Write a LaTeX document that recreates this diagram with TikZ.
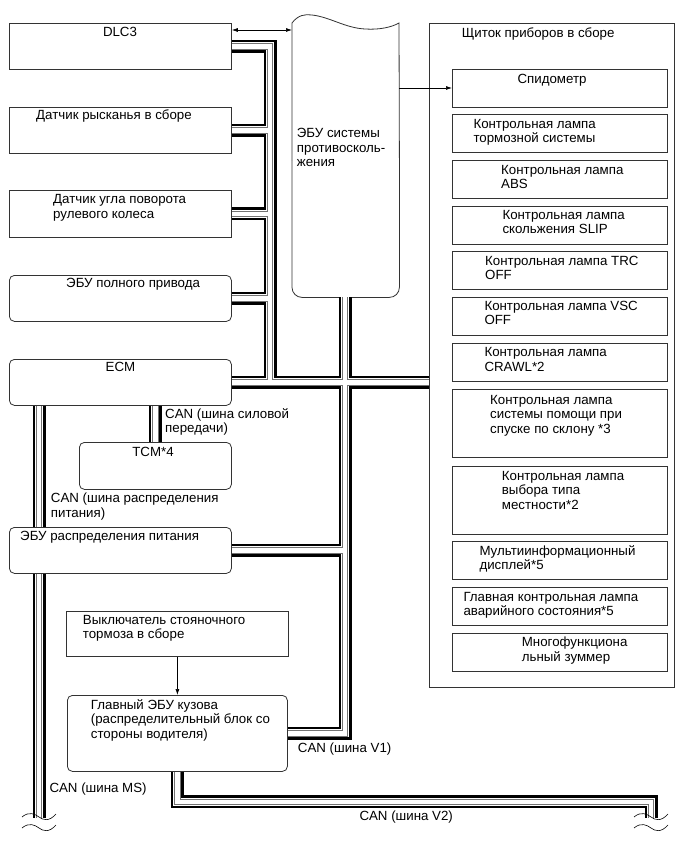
\documentclass[tikz,border=0pt]{standalone}
\usepackage{fontspec}
\setmainfont{Liberation Sans}
\usetikzlibrary{arrows.meta,calc}
\newcommand\ml[1]{\begin{tabular}[t]{@{}l@{}}#1\end{tabular}}
\tikzset{
  boxline/.style={draw=black!80, line width=0.8pt},
  box/.style={boxline, fill=white, rectangle, inner sep=0pt, anchor=north west},
  rbox/.style={box, rounded corners=5pt},
  txt/.style={anchor=base west, inner sep=0pt, font=\fontsize{13.3}{14.5}\selectfont},
  ctxt/.style={txt, anchor=base},
  arr/.style={draw=black, line width=0.7pt},
  tip/.tip={Latex[length=6pt,width=4pt]},
  brkline/.style={draw=black, line width=0.6pt}
}
\newcommand\busnet[1]{%
  \draw[#1] (dlc.east) -| (mx |- ecm.east);
  \draw[#1] (yaw.east) -- (yaw.east -| mx);
  \draw[#1] (steer.east) -- (steer.east -| mx);
  \draw[#1] (awd.east) -- (awd.east -| mx);
  \draw[#1] (ecm.east) -- (ecm.east -| cluster.west);
  \draw[#1] (sx) |- (body.east);
  \draw[#1] (pd.east) -- (pd.east -| sx);
  \draw[#1] (tcm.north |- ecm.south) -- (tcm.north);
  \draw[#1] (msx |- ecm.south) -- (msx |- pd.north);
  \draw[#1] (msx |- pd.south) -- (msend);
  \draw[#1] (body.south) -- ++(0,30) -| (v2end);
}
\newcommand\brkmark[1]{%
  \draw[brkline] ($(#1)+(-17,-1)$) .. controls ($(#1)+(-10,-7)$) and ($(#1)+(-4,-4)$) .. ($(#1)+(0,-1)$) .. controls ($(#1)+(4,2)$) and ($(#1)+(10,4)$) .. ($(#1)+(17,-4)$);
  \draw[brkline] ($(#1)+(-17,10)$) .. controls ($(#1)+(-10,4)$) and ($(#1)+(-4,7)$) .. ($(#1)+(0,10)$) .. controls ($(#1)+(4,13)$) and ($(#1)+(10,15)$) .. ($(#1)+(17,7)$);
}
\begin{document}
\begin{tikzpicture}[x=1pt,y=-1pt]
\useasboundingbox[fill=white] (0,0) rectangle (689,853);

% left column boxes
\node[box, minimum width=222pt, minimum height=46pt] (dlc) at (9,23) {};
\node[box, minimum width=222pt, minimum height=46pt] (yaw) at (9,107) {};
\node[box, minimum width=222pt, minimum height=47pt] (steer) at (9,190) {};
\node[rbox, minimum width=222pt, minimum height=46pt] (awd) at (9,275) {};
\node[rbox, minimum width=222pt, minimum height=46pt] (ecm) at (9,359) {};
\node[rbox, minimum width=152pt, minimum height=47pt] (tcm) at (79,442) {};
\node[rbox, minimum width=222pt, minimum height=46pt] (pd) at (9,527) {};
\node[box, minimum width=222pt, minimum height=45pt] (pbs) at (66,611) {};
\node[rbox, minimum width=220pt, minimum height=76pt] (body) at (67,695) {};

% cluster
\node[box, minimum width=245pt, minimum height=664pt] (cluster) at (429,23) {};
\node[box, minimum width=215pt, minimum height=38pt] (speedo) at (452,69) {};
\node[box, minimum width=215pt, minimum height=38pt] (brake) at (452,114) {};
\node[box, minimum width=215pt, minimum height=38pt] (abs) at (452,160) {};
\node[box, minimum width=215pt, minimum height=38pt] (slip) at (452,206) {};
\node[box, minimum width=215pt, minimum height=38pt] (trc) at (452,251) {};
\node[box, minimum width=215pt, minimum height=38pt] (vsc) at (452,297) {};
\node[box, minimum width=215pt, minimum height=38pt] (crawl) at (452,343) {};
\node[box, minimum width=215pt, minimum height=68pt] (hdc) at (452,389) {};
\node[box, minimum width=215pt, minimum height=68pt] (terr) at (452,466) {};
\node[box, minimum width=215pt, minimum height=38pt] (multi) at (452,541) {};
\node[box, minimum width=215pt, minimum height=38pt] (master) at (452,587) {};
\node[box, minimum width=215pt, minimum height=38pt] (buzz) at (452,633) {};

% skid control ECU
\node[inner sep=0pt, minimum width=107pt, minimum height=274pt, anchor=north west] (skid) at (292,23) {};
\draw[boxline, rounded corners=10pt] (skid.west) -- (skid.south west) -- (skid.south east) -- (skid.east);
\draw[boxline] (skid.west) -- (292,23) .. controls (298,15) and (305,14) .. (312,15)
   .. controls (330,17) and (345,28) .. (365,29) .. controls (380,30) and (392,27) .. (399,23) -- (skid.east);

% bus helper coordinates
\coordinate (mx) at (270,0);
\coordinate (sx) at (345,297);
\coordinate (msx) at (39,0);
\coordinate (msend) at (39,818);
\coordinate (v2end) at (651,818);

% buses (multi-pass)
\busnet{line width=13pt, black}
\busnet{line width=8pt, white}
\busnet{line width=6.5pt, black!55}
\busnet{line width=4.5pt, white}

\brkmark{msend}
\brkmark{v2end}

% arrows
\draw[arr, tip-tip] (dlc.east |- 0,30) -- (292,30);
\draw[arr, -tip] (399,88) -- (speedo.west |- 0,88);
\draw[arr, -tip] (pbs.south -| body.south) -- (body.north);

% texts
\node[ctxt] (dlct) at (120,36.5) {DLC3};
\node[txt] (yawt) at (36,120) {Датчик рысканья в сборе};
\node[txt] (steert) at (53,204) {\ml{Датчик угла поворота\\рулевого колеса}};
\node[txt] (awdt) at (66,287.5) {ЭБУ полного привода};
\node[ctxt] (ecmt) at (120.5,371.7) {ECM};
\node[ctxt] (tcmt) at (153,456) {TCM*4};
\node[txt] (can1) at (165,418.3) {\ml{CAN (шина силовой\\передачи)}};
\node[txt] (can2) at (50.7,502.7) {\ml{CAN (шина распределения\\питания)}};
\node[txt] (pdt) at (20,540) {ЭБУ распределения питания};
\node[txt] (pbst) at (82.7,624.3) {\ml{Выключатель стояночного\\тормоза в сборе}};
\node[txt] (bodyt) at (90.7,709) {\ml{Главный ЭБУ кузова\\(распределительный блок со\\стороны водителя)}};
\node[txt] (v1t) at (297.7,752.7) {CAN (шина V1)};
\node[txt] (mst) at (49.3,792) {CAN (шина MS)};
\node[txt] (v2t) at (359.3,820) {CAN (шина V2)};
\node[txt] (skidt) at (296.7,138) {\ml{ЭБУ системы\\противосколь-\\жения}};
\node[txt] (clt) at (461.7,37.3) {Щиток приборов в сборе};
\node[ctxt] (speedt) at (552,83.3) {Спидометр};
\node[txt] (braket) at (473.3,128.3) {\ml{Контрольная лампа\\тормозной системы}};
\node[txt] (abst) at (501,174.3) {\ml{Контрольная лампа\\ABS}};
\node[txt] (slipt) at (502.3,219.3) {\ml{Контрольная лампа\\скольжения SLIP}};
\node[txt] (trct) at (485,265) {\ml{Контрольная лампа TRC\\OFF}};
\node[txt] (vsct) at (484.3,310) {\ml{Контрольная лампа VSC\\OFF}};
\node[txt] (crawlt) at (484.3,356.7) {\ml{Контрольная лампа\\CRAWL*2}};
\node[txt] (hdct) at (490,404) {\ml{Контрольная лампа\\системы помощи при\\спуске по склону *3}};
\node[txt] (terrt) at (501.7,480) {\ml{Контрольная лампа\\выбора типа\\местности*2}};
\node[txt] (multit) at (479.3,555) {\ml{Мультиинформационный\\дисплей*5}};
\node[txt] (mastert) at (463.3,601) {\ml{Главная контрольная лампа\\аварийного состояния*5}};
\node[txt] (buzzt) at (521.7,646.7) {\ml{Многофункциона\\льный зуммер}};
\end{tikzpicture}
\end{document}
